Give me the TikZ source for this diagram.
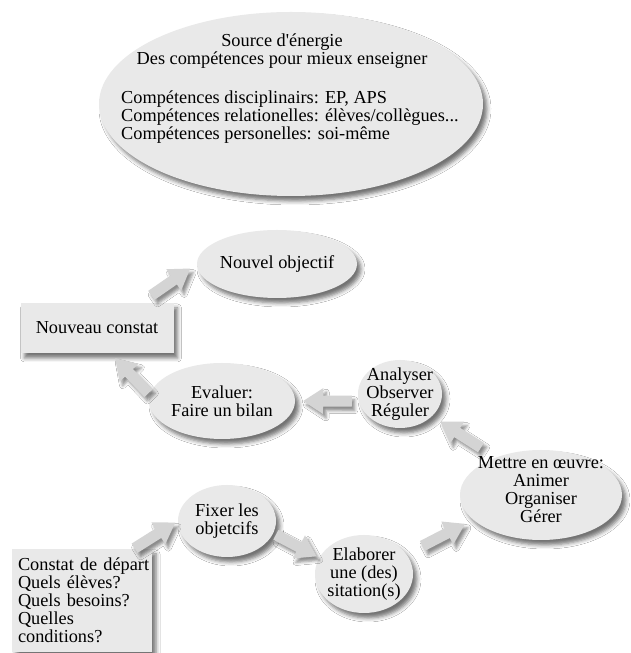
\documentclass[tikz,border=0pt]{standalone}
\usepackage{fontspec}
\setmainfont{Liberation Serif}
\usetikzlibrary{shapes.geometric,shadows.blur,calc}
\definecolor{paper}{RGB}{233,233,233}
\definecolor{arrowgrey}{RGB}{212,212,212}
\tikzset{
  card/.style={fill=paper, draw=none, inner sep=0pt,
    blur shadow={shadow xshift=4pt, shadow yshift=-5pt,
      shadow blur radius=4pt, shadow opacity=55}},
  bubble/.style={card, ellipse},
  box/.style={card, rectangle},
  txt/.style={inner sep=0pt, align=center},
  arrowbody/.style={fill=arrowgrey,
    blur shadow={shadow xshift=3pt, shadow yshift=-4pt,
      shadow blur radius=3pt, shadow opacity=45}}
}
% block arrow between two node anchors: #1 from, #2 to,
% #3 gap at the start, #4 gap at the tip
\newcommand\blockarrow[4]{%
  \coordinate (ba-s) at ($(#1)!#3!(#2)$);
  \coordinate (ba-e) at ($(#2)!#4!(#1)$);
  \coordinate (ba-h) at ($(ba-e)!20pt!(ba-s)$);
  \path[arrowbody]
    ($(ba-s)!5.5pt!90:(ba-e)$) -- ($(ba-h)!5.5pt!-90:(ba-s)$)
    -- ($(ba-h)!13pt!-90:(ba-s)$) -- (ba-e)
    -- ($(ba-h)!13pt!90:(ba-s)$) -- ($(ba-h)!5.5pt!90:(ba-s)$)
    -- ($(ba-s)!5.5pt!-90:(ba-e)$) -- cycle;
}
\begin{document}
\begin{tikzpicture}[x=1pt, y=1pt, font=\fontsize{18.3}{18}\selectfont]
\clip (0,0) rectangle (631,653);
\fill[white] (0,0) rectangle (631,653);

% source of energy
\node[bubble, minimum width=384pt, minimum height=184pt] (src) at (291,549) {};
\node[txt] (src-t) at (282,602) {Source d\textquotesingle énergie\\Des compétences pour mieux enseigner};
\node[txt, align=left, anchor=west] (src-l) at (121,536)
  {Compétences disciplinairs: EP, APS\\Compétences relationelles: élèves/collègues...\\Compétences personelles: soi-même};

% cycle
\node[bubble, minimum width=160pt, minimum height=68pt] (no) at (277,389) {};
\node[txt] (no-t) at (no) {Nouvel objectif};

\node[box, minimum width=153pt, minimum height=50pt] (nc) at (97,325) {Nouveau constat};

\node[bubble, minimum width=146pt, minimum height=76pt] (ev) at (222,252) {};
\node[txt] (ev-t) at (ev) {Evaluer:\\Faire un bilan};

\node[bubble, minimum width=84pt, minimum height=68pt] (an) at (400,259) {};
\node[txt] (an-t) at (an) {Analyser\\Observer\\Réguler};

\node[bubble, minimum width=162pt, minimum height=90pt] (me) at (541,158) {};
\node[txt] (me-t) at ([yshift=5pt]me.center) {Mettre en œuvre:\\Animer\\Organiser\\Gérer};

\node[bubble, minimum width=98pt, minimum height=72pt] (fx) at (227,132) {};
\node[txt] (fx-t) at (fx) {Fixer les\\objetcifs};

\node[bubble, minimum width=98pt, minimum height=78pt] (el) at (364,79) {};
\node[txt] (el-t) at (el) {Elaborer\\une (des)\\sitation(s)};

\node[box, minimum width=140pt, minimum height=103pt, text width=136pt,
      inner xsep=2pt, align=left] (cd) at (82,52.5)
  {\hspace*{4pt}Constat de départ\\\hspace*{4pt}Quels élèves?\\\hspace*{4pt}Quels besoins?\\\hspace*{4pt}Quelles\\\hspace*{4pt}conditions?};

% arrows
\blockarrow{nc.30}{no.180}{13pt}{8pt}
\blockarrow{ev.175}{nc.-62}{2pt}{7pt}
\blockarrow{an.190}{ev.0}{7pt}{8pt}
\blockarrow{me.140}{an.-35}{18pt}{10pt}
\blockarrow{cd.45}{fx.180}{1pt}{3pt}
\blockarrow{fx.-15}{el.160}{3pt}{3pt}
\blockarrow{el.25}{me.200}{18pt}{9pt}
\end{tikzpicture}
\end{document}
